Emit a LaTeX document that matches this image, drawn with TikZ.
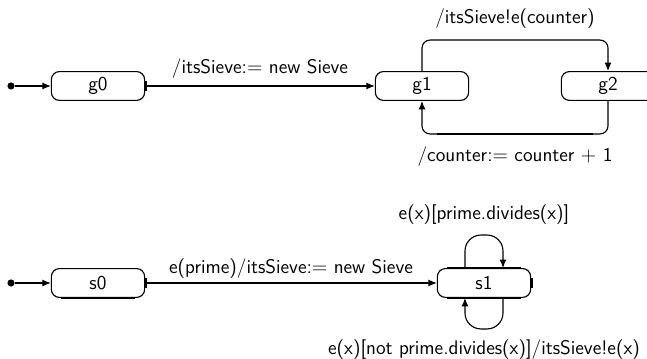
\documentclass[tikz,border=0pt]{standalone}
\usetikzlibrary{arrows.meta,calc}
\begin{document}
\begin{tikzpicture}[x=0.025cm, y=-0.025cm, line width=0.8pt,
    font=\sffamily\fontsize{14}{16}\selectfont,
    state/.style={draw, rounded corners=0.2cm, minimum width=2.33cm, minimum height=0.72cm},
    start/.style={circle, fill, inner sep=1.8pt},
    trans/.style={-{Latex[length=6pt,width=5pt]}},
    lbl/.style={inner sep=2pt},
    heavy/.style={line width=2pt}]
      \useasboundingbox (0,0) rectangle (647,359);
      \draw
        (11,86) node[start] (i0){}
        (98,86) node[state] (g0){g0}
        (422,86) node[state] (g1){g1}
        (608,86) node[state] (g2){g2}
        (11,283) node[start] (i1){}
        (98,283) node[state] (s0){s0}
        (484,283) node[state] (s1){s1};
      \begin{scope}[trans]
        \draw (i0) to (g0);
        \draw (g0) to node[lbl, above=3pt]{/itsSieve:$=$ new Sieve} (g1);
        \draw[rounded corners=0.2cm] (g1.north) -- ++(0,-31) -| node[lbl, pos=0.25, above=6pt]{/itsSieve!e(counter)} (g2.north);
        \draw[rounded corners=0.2cm] (g2.south) -- ++(0,33) -| node[lbl, pos=0.25, below=6.5pt]{/counter:$=$ counter $+$ 1} (g1.south);
        \draw (i1) to (s0);
        \draw (s0) to node[lbl, above=1pt]{e(prime)/itsSieve:$=$ new Sieve} (s1);
        \draw[rounded corners=0.4cm] ($(s1.north)+(-19,0)$) -- ++(0,-33) -| node[lbl, pos=0.25, above=5pt]{e(x)[prime.divides(x)]} ($(s1.north)+(19,0)$);
        \draw[rounded corners=0.4cm] ($(s1.south)+(19,0)$) -- ++(0,31) -| node[lbl, pos=0.25, below=5pt]{e(x)[not prime.divides(x)]/itsSieve!e(x)} ($(s1.south)+(-19,0)$);
      \end{scope}
      % heavier strokes
      \begin{scope}[heavy]
        \draw ($(g0.east)+(0,-5)$) -- ($(g0.east)+(0,5)$);
        \draw ($(s0.east)+(0,-5)$) -- ($(s0.east)+(0,5)$);
        \draw ($(s1.east)+(0,-5)$) -- ($(s1.east)+(0,5)$);
        \draw ($(s0.south west)+(10,0)$) -- ($(s0.south east)+(-10,0)$);
        \draw ($(s1.north west)+(10,0)$) -- ($(s1.north east)+(-10,0)$);
        \draw ($(s1.south west)+(10,0)$) -- ($(s1.south east)+(-10,0)$);
        \draw ($(g1.south)+(15,33)$) -- ($(g2.south)+(-15,33)$);
      \end{scope}
    \end{tikzpicture}
\end{document}
